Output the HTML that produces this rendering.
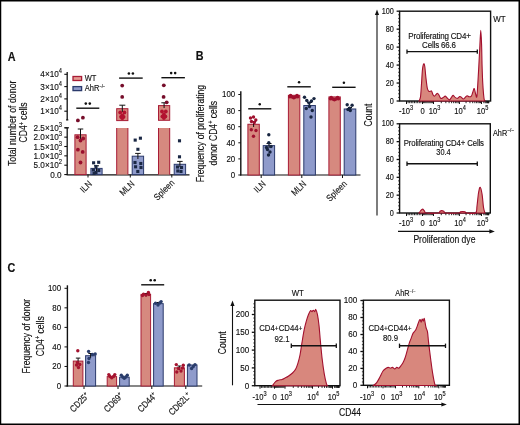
<!DOCTYPE html>
<html><head><meta charset="utf-8"><style>
html,body{margin:0;padding:0;background:#fff;}
#f{position:relative;width:520px;height:425px;overflow:hidden;background:#fff;}
svg{position:absolute;left:0;top:0;filter:blur(0.35px);}
text{font-family:"Liberation Sans", sans-serif;stroke:#111;stroke-width:0.15px;}
</style></head><body><div id="f">
<svg width="520" height="425" viewBox="0 0 520 425">
<rect x="0" y="0" width="520" height="1.5" fill="#000"/><rect x="0" y="0" width="1.25" height="425" fill="#000"/><rect x="518.5" y="0" width="1.5" height="425" fill="#000"/><rect x="0" y="423.5" width="520" height="1.5" fill="#000"/>
<text x="0" y="0" font-size="12.00" text-anchor="start" font-weight="bold" fill="#111" transform="translate(7.8 60.9) scale(0.9 1)">A</text>
<text x="0" y="0" font-size="10.23" text-anchor="middle" font-weight="normal" fill="#111" transform="translate(15.6 123.3) rotate(-90) scale(0.86 1)">Total number of donor</text>
<text x="0" y="0" font-size="10.00" text-anchor="middle" font-weight="normal" fill="#111" transform="translate(27 122.5) rotate(-90) scale(0.86 1)">CD4<tspan font-size="6.51" dy="-3.49">+</tspan><tspan dy="3.49"> cells</tspan></text>
<line x1="67.2" y1="72" x2="67.2" y2="120.3" stroke="#111" stroke-width="1.3"/>
<line x1="66.0" y1="119.9" x2="68.4" y2="119.9" stroke="#111" stroke-width="1"/>
<line x1="64.3" y1="74.3" x2="67.2" y2="74.3" stroke="#111" stroke-width="1.1"/>
<text x="0" y="0" font-size="9.53" text-anchor="end" font-weight="normal" fill="#111" transform="translate(62 77.3) scale(0.86 1)">4×10<tspan font-size="6.67" dy="-3.81">4</tspan></text>
<line x1="64.3" y1="86.6" x2="67.2" y2="86.6" stroke="#111" stroke-width="1.1"/>
<text x="0" y="0" font-size="9.53" text-anchor="end" font-weight="normal" fill="#111" transform="translate(62 89.6) scale(0.86 1)">3×10<tspan font-size="6.67" dy="-3.81">4</tspan></text>
<line x1="64.3" y1="98.9" x2="67.2" y2="98.9" stroke="#111" stroke-width="1.1"/>
<text x="0" y="0" font-size="9.53" text-anchor="end" font-weight="normal" fill="#111" transform="translate(62 101.9) scale(0.86 1)">2×10<tspan font-size="6.67" dy="-3.81">4</tspan></text>
<line x1="64.3" y1="111.2" x2="67.2" y2="111.2" stroke="#111" stroke-width="1.1"/>
<text x="0" y="0" font-size="9.53" text-anchor="end" font-weight="normal" fill="#111" transform="translate(62 114.2) scale(0.86 1)">1×10<tspan font-size="6.67" dy="-3.81">4</tspan></text>
<line x1="67.2" y1="127.5" x2="67.2" y2="175" stroke="#111" stroke-width="1.3"/>
<line x1="64.60000000000001" y1="127.8" x2="69.0" y2="127.8" stroke="#111" stroke-width="1.1"/>
<line x1="64.3" y1="127.8" x2="67.2" y2="127.8" stroke="#111" stroke-width="1.1"/>
<text x="0" y="0" font-size="9.53" text-anchor="end" font-weight="normal" fill="#111" transform="translate(62 130.8) scale(0.86 1)">2.5×10<tspan font-size="6.67" dy="-3.81">3</tspan></text>
<line x1="64.3" y1="137.15" x2="67.2" y2="137.15" stroke="#111" stroke-width="1.1"/>
<text x="0" y="0" font-size="9.53" text-anchor="end" font-weight="normal" fill="#111" transform="translate(62 140.15) scale(0.86 1)">2.0×10<tspan font-size="6.67" dy="-3.81">3</tspan></text>
<line x1="64.3" y1="146.5" x2="67.2" y2="146.5" stroke="#111" stroke-width="1.1"/>
<text x="0" y="0" font-size="9.53" text-anchor="end" font-weight="normal" fill="#111" transform="translate(62 149.5) scale(0.86 1)">1.5×10<tspan font-size="6.67" dy="-3.81">3</tspan></text>
<line x1="64.3" y1="155.85" x2="67.2" y2="155.85" stroke="#111" stroke-width="1.1"/>
<text x="0" y="0" font-size="9.53" text-anchor="end" font-weight="normal" fill="#111" transform="translate(62 158.85) scale(0.86 1)">1.0×10<tspan font-size="6.67" dy="-3.81">3</tspan></text>
<line x1="64.3" y1="165.2" x2="67.2" y2="165.2" stroke="#111" stroke-width="1.1"/>
<text x="0" y="0" font-size="9.53" text-anchor="end" font-weight="normal" fill="#111" transform="translate(62 168.2) scale(0.86 1)">5.0×10<tspan font-size="6.67" dy="-3.81">2</tspan></text>
<line x1="64.3" y1="174.55" x2="67.2" y2="174.55" stroke="#111" stroke-width="1.1"/>
<text x="0" y="0" font-size="9.53" text-anchor="end" font-weight="normal" fill="#111" transform="translate(61.6 177.55) scale(0.86 1)">0.0</text>
<line x1="66.60000000000001" y1="174.9" x2="189.5" y2="174.9" stroke="#111" stroke-width="1.3"/>
<line x1="88" y1="174.6" x2="88" y2="177.5" stroke="#111" stroke-width="1"/>
<line x1="130.3" y1="174.6" x2="130.3" y2="177.5" stroke="#111" stroke-width="1"/>
<line x1="171.8" y1="174.6" x2="171.8" y2="177.5" stroke="#111" stroke-width="1"/>
<rect x="74.9" y="134.8" width="11.2" height="39.8" fill="#d6897f" stroke="#a81c36" stroke-width="1"/>
<rect x="90.9" y="168.4" width="11.2" height="6.2" fill="#8f9bcb" stroke="#2b3a6c" stroke-width="1"/>
<rect x="116.7" y="128" width="11.2" height="46.6" fill="#d6897f"/>
<line x1="116.7" y1="128" x2="116.7" y2="174.6" stroke="#a81c36" stroke-width="1"/>
<line x1="127.9" y1="128" x2="127.9" y2="174.6" stroke="#a81c36" stroke-width="1"/>
<rect x="132.2" y="156.2" width="11.4" height="18.4" fill="#8f9bcb" stroke="#2b3a6c" stroke-width="1"/>
<rect x="158.5" y="128" width="11.2" height="46.6" fill="#d6897f"/>
<line x1="158.5" y1="128" x2="158.5" y2="174.6" stroke="#a81c36" stroke-width="1"/>
<line x1="169.7" y1="128" x2="169.7" y2="174.6" stroke="#a81c36" stroke-width="1"/>
<rect x="174.2" y="164.3" width="11.4" height="10.3" fill="#8f9bcb" stroke="#2b3a6c" stroke-width="1"/>
<rect x="116.7" y="108.7" width="11.2" height="11.9" fill="#d6897f" stroke="#a81c36" stroke-width="1"/>
<rect x="158.5" y="105.6" width="11.2" height="14.7" fill="#d6897f" stroke="#a81c36" stroke-width="1"/>
<line x1="80.5" y1="129" x2="80.5" y2="141" stroke="#111" stroke-width="1"/>
<line x1="77.75" y1="129" x2="83.25" y2="129" stroke="#111" stroke-width="1"/>
<line x1="96.5" y1="165.8" x2="96.5" y2="171" stroke="#111" stroke-width="1"/>
<line x1="94.0" y1="165.8" x2="99.0" y2="165.8" stroke="#111" stroke-width="1"/>
<line x1="122.3" y1="105.2" x2="122.3" y2="112" stroke="#111" stroke-width="1"/>
<line x1="119.3" y1="105.2" x2="125.3" y2="105.2" stroke="#111" stroke-width="1"/>
<line x1="137.9" y1="153.4" x2="137.9" y2="159" stroke="#111" stroke-width="1"/>
<line x1="135.15" y1="153.4" x2="140.65" y2="153.4" stroke="#111" stroke-width="1"/>
<line x1="164.1" y1="102.8" x2="164.1" y2="108" stroke="#111" stroke-width="1"/>
<line x1="161.35" y1="102.8" x2="166.85" y2="102.8" stroke="#111" stroke-width="1"/>
<line x1="179.9" y1="161.4" x2="179.9" y2="167" stroke="#111" stroke-width="1"/>
<line x1="177.15" y1="161.4" x2="182.65" y2="161.4" stroke="#111" stroke-width="1"/>
<circle cx="77.9" cy="120.4" r="1.9" fill="#760d2a"/>
<circle cx="82.9" cy="117.7" r="1.9" fill="#760d2a"/>
<circle cx="77.6" cy="137.2" r="1.9" fill="#9a0f2e"/>
<circle cx="83.2" cy="138.5" r="1.9" fill="#9a0f2e"/>
<circle cx="77.9" cy="149.7" r="1.9" fill="#9a0f2e"/>
<circle cx="82.7" cy="151.9" r="1.9" fill="#9a0f2e"/>
<circle cx="80.5" cy="162.5" r="1.9" fill="#9a0f2e"/>
<circle cx="80.5" cy="140.5" r="1.9" fill="#9a0f2e"/>
<rect x="92.05" y="161.25" width="3.1" height="3.1" fill="#1b2845"/>
<rect x="97.15" y="160.75" width="3.1" height="3.1" fill="#1b2845"/>
<rect x="94.45" y="164.95" width="3.1" height="3.1" fill="#1b2845"/>
<rect x="91.85000000000001" y="168.45" width="3.1" height="3.1" fill="#1b2845"/>
<rect x="97.25" y="168.95" width="3.1" height="3.1" fill="#1b2845"/>
<rect x="94.45" y="170.95" width="3.1" height="3.1" fill="#1b2845"/>
<rect x="92.45" y="171.95" width="3.1" height="3.1" fill="#1b2845"/>
<circle cx="122.2" cy="85.6" r="1.9" fill="#760d2a"/>
<circle cx="122.2" cy="96.9" r="1.9" fill="#760d2a"/>
<circle cx="120.2" cy="112.5" r="1.9" fill="#b3122f"/>
<circle cx="124.4" cy="112.5" r="1.9" fill="#b3122f"/>
<circle cx="122.3" cy="115.5" r="1.9" fill="#b3122f"/>
<circle cx="121" cy="116.8" r="1.9" fill="#b3122f"/>
<circle cx="123.6" cy="116.8" r="1.9" fill="#b3122f"/>
<circle cx="122.3" cy="118.2" r="1.9" fill="#b3122f"/>
<rect x="133.64999999999998" y="138.54999999999998" width="3.1" height="3.1" fill="#1b2845"/>
<rect x="138.85" y="136.64999999999998" width="3.1" height="3.1" fill="#1b2845"/>
<rect x="136.35" y="147.75" width="3.1" height="3.1" fill="#1b2845"/>
<rect x="133.45" y="160.95" width="3.1" height="3.1" fill="#1b2845"/>
<rect x="139.25" y="161.95" width="3.1" height="3.1" fill="#1b2845"/>
<rect x="134.04999999999998" y="165.25" width="3.1" height="3.1" fill="#1b2845"/>
<rect x="139.45" y="165.95" width="3.1" height="3.1" fill="#1b2845"/>
<rect x="136.25" y="169.95" width="3.1" height="3.1" fill="#1b2845"/>
<circle cx="163.8" cy="85.3" r="1.9" fill="#760d2a"/>
<circle cx="163.6" cy="96.9" r="1.9" fill="#760d2a"/>
<circle cx="166.7" cy="102.3" r="1.9" fill="#760d2a"/>
<circle cx="162" cy="111.5" r="1.9" fill="#b3122f"/>
<circle cx="165.8" cy="111.5" r="1.9" fill="#b3122f"/>
<circle cx="163.9" cy="114.5" r="1.9" fill="#b3122f"/>
<circle cx="162.4" cy="116.5" r="1.9" fill="#b3122f"/>
<circle cx="165.4" cy="116.5" r="1.9" fill="#b3122f"/>
<circle cx="163.9" cy="118" r="1.9" fill="#b3122f"/>
<rect x="177.95" y="139.25" width="3.1" height="3.1" fill="#1b2845"/>
<rect x="177.95" y="155.25" width="3.1" height="3.1" fill="#1b2845"/>
<rect x="175.95" y="165.45" width="3.1" height="3.1" fill="#1b2845"/>
<rect x="179.95" y="165.95" width="3.1" height="3.1" fill="#1b2845"/>
<rect x="176.25" y="169.45" width="3.1" height="3.1" fill="#1b2845"/>
<rect x="179.45" y="169.95" width="3.1" height="3.1" fill="#1b2845"/>
<line x1="76.3" y1="108.2" x2="99.3" y2="108.2" stroke="#111" stroke-width="1.4"/>
<circle cx="85.8" cy="103.60000000000001" r="1.3" fill="#111"/>
<circle cx="89.8" cy="103.60000000000001" r="1.3" fill="#111"/>
<line x1="119.1" y1="78.1" x2="142.7" y2="78.1" stroke="#111" stroke-width="1.4"/>
<circle cx="128.89999999999998" cy="73.5" r="1.3" fill="#111"/>
<circle cx="132.89999999999998" cy="73.5" r="1.3" fill="#111"/>
<line x1="161.4" y1="77.7" x2="184.9" y2="77.7" stroke="#111" stroke-width="1.4"/>
<circle cx="171.15" cy="73.10000000000001" r="1.3" fill="#111"/>
<circle cx="175.15" cy="73.10000000000001" r="1.3" fill="#111"/>
<rect x="73" y="76.5" width="8.6" height="4.0" fill="#e59a92" stroke="#a81c36" stroke-width="1.3"/>
<text x="0" y="0" font-size="8.72" text-anchor="start" font-weight="normal" fill="#111" transform="translate(84.8 81.0) scale(0.86 1)">WT</text>
<rect x="73" y="86.6" width="8.6" height="4.0" fill="#8f9bcb" stroke="#2b3a6c" stroke-width="1.3"/>
<text x="0" y="0" font-size="8.72" text-anchor="start" font-weight="normal" fill="#111" transform="translate(84.8 91.3) scale(0.86 1)">AhR<tspan font-size="4.65" dy="-3.49">−/−</tspan></text>
<text x="0" y="0" font-size="9.19" text-anchor="end" font-weight="normal" fill="#111" transform="translate(92.5 184.5) rotate(-45) scale(0.86 1)">ILN</text>
<text x="0" y="0" font-size="9.19" text-anchor="end" font-weight="normal" fill="#111" transform="translate(135 184.5) rotate(-45) scale(0.86 1)">MLN</text>
<text x="0" y="0" font-size="9.19" text-anchor="end" font-weight="normal" fill="#111" transform="translate(175 183.5) rotate(-45) scale(0.86 1)">Spleen</text>
<text x="0" y="0" font-size="12.00" text-anchor="start" font-weight="bold" fill="#111" transform="translate(195.8 59.8) scale(0.9 1)">B</text>
<text x="0" y="0" font-size="10.00" text-anchor="middle" font-weight="normal" fill="#111" transform="translate(204 133.6) rotate(-90) scale(0.86 1)">Frequency of proliferating</text>
<text x="0" y="0" font-size="10.00" text-anchor="middle" font-weight="normal" fill="#111" transform="translate(216.8 133.2) rotate(-90) scale(0.86 1)">donor CD4<tspan font-size="6.51" dy="-3.49">+</tspan><tspan dy="3.49"> cells</tspan></text>
<line x1="240.8" y1="91.3" x2="240.8" y2="175.6" stroke="#111" stroke-width="1.4"/>
<line x1="238.3" y1="94.5" x2="240.8" y2="94.5" stroke="#111" stroke-width="1"/>
<text x="0" y="0" font-size="9.19" text-anchor="end" font-weight="normal" fill="#111" transform="translate(235.2 97.4) scale(0.86 1)">100</text>
<line x1="238.3" y1="110.6" x2="240.8" y2="110.6" stroke="#111" stroke-width="1"/>
<text x="0" y="0" font-size="9.19" text-anchor="end" font-weight="normal" fill="#111" transform="translate(235.2 113.5) scale(0.86 1)">80</text>
<line x1="238.3" y1="126.7" x2="240.8" y2="126.7" stroke="#111" stroke-width="1"/>
<text x="0" y="0" font-size="9.19" text-anchor="end" font-weight="normal" fill="#111" transform="translate(235.2 129.6) scale(0.86 1)">60</text>
<line x1="238.3" y1="142.8" x2="240.8" y2="142.8" stroke="#111" stroke-width="1"/>
<text x="0" y="0" font-size="9.19" text-anchor="end" font-weight="normal" fill="#111" transform="translate(235.2 145.70000000000002) scale(0.86 1)">40</text>
<line x1="238.3" y1="158.9" x2="240.8" y2="158.9" stroke="#111" stroke-width="1"/>
<text x="0" y="0" font-size="9.19" text-anchor="end" font-weight="normal" fill="#111" transform="translate(235.2 161.8) scale(0.86 1)">20</text>
<line x1="238.3" y1="175.0" x2="240.8" y2="175.0" stroke="#111" stroke-width="1"/>
<text x="0" y="0" font-size="9.19" text-anchor="end" font-weight="normal" fill="#111" transform="translate(235.2 177.9) scale(0.86 1)">0</text>
<line x1="240.20000000000002" y1="175" x2="360.5" y2="175" stroke="#111" stroke-width="1.2"/>
<line x1="261.2" y1="175" x2="261.2" y2="178" stroke="#111" stroke-width="1"/>
<line x1="301.8" y1="175" x2="301.8" y2="178" stroke="#111" stroke-width="1"/>
<line x1="342.5" y1="175" x2="342.5" y2="178" stroke="#111" stroke-width="1"/>
<rect x="247.9" y="124.285" width="11.4" height="50.715" fill="#d6897f" stroke="#a81c36" stroke-width="1"/>
<rect x="263.2" y="145.6175" width="11.4" height="29.382499999999993" fill="#8f9bcb" stroke="#2b3a6c" stroke-width="1"/>
<rect x="288.4" y="95.30499999999999" width="11.4" height="79.69500000000001" fill="#d6897f" stroke="#a81c36" stroke-width="1"/>
<rect x="303.8" y="105.5285" width="11.6" height="69.4715" fill="#8f9bcb" stroke="#2b3a6c" stroke-width="1"/>
<rect x="328.9" y="96.91499999999999" width="11.4" height="78.08500000000001" fill="#d6897f" stroke="#a81c36" stroke-width="1"/>
<rect x="344.2" y="108.99" width="11.6" height="66.01" fill="#8f9bcb" stroke="#2b3a6c" stroke-width="1"/>
<line x1="253.6" y1="121.5" x2="253.6" y2="127" stroke="#111" stroke-width="1"/>
<line x1="251.1" y1="121.5" x2="256.1" y2="121.5" stroke="#111" stroke-width="1"/>
<line x1="269" y1="143.5" x2="269" y2="148" stroke="#111" stroke-width="1"/>
<line x1="266.5" y1="143.5" x2="271.5" y2="143.5" stroke="#111" stroke-width="1"/>
<line x1="309.6" y1="102.5" x2="309.6" y2="106.5" stroke="#111" stroke-width="1"/>
<line x1="307.1" y1="102.5" x2="312.1" y2="102.5" stroke="#111" stroke-width="1"/>
<line x1="350" y1="107.5" x2="350" y2="110.5" stroke="#111" stroke-width="1"/>
<line x1="348.0" y1="107.5" x2="352.0" y2="107.5" stroke="#111" stroke-width="1"/>
<circle cx="250.5" cy="118" r="1.7" fill="#a0102e"/>
<circle cx="253.5" cy="117" r="1.7" fill="#a0102e"/>
<circle cx="255.8" cy="120" r="1.7" fill="#a0102e"/>
<circle cx="251.5" cy="121.5" r="1.7" fill="#a0102e"/>
<circle cx="254.3" cy="122.5" r="1.7" fill="#a0102e"/>
<circle cx="251.3" cy="129.8" r="1.7" fill="#a0102e"/>
<circle cx="256" cy="130.5" r="1.7" fill="#a0102e"/>
<circle cx="253.5" cy="136.3" r="1.7" fill="#a0102e"/>
<circle cx="268.8" cy="134.7" r="1.7" fill="#172540"/>
<circle cx="268.8" cy="142.7" r="1.7" fill="#172540"/>
<circle cx="271" cy="146.5" r="1.7" fill="#172540"/>
<circle cx="267.5" cy="149.5" r="1.7" fill="#172540"/>
<circle cx="270" cy="152" r="1.7" fill="#172540"/>
<circle cx="266.5" cy="147.5" r="1.7" fill="#172540"/>
<circle cx="268.5" cy="155" r="1.7" fill="#172540"/>
<circle cx="290.6" cy="95.6" r="1.8" fill="#a0102e"/>
<circle cx="297" cy="95.6" r="1.8" fill="#a0102e"/>
<circle cx="293.8" cy="97.8" r="1.8" fill="#a0102e"/>
<circle cx="289.8" cy="96.8" r="1.8" fill="#a0102e"/>
<circle cx="297.8" cy="96.8" r="1.8" fill="#a0102e"/>
<circle cx="292.2" cy="97" r="1.8" fill="#a0102e"/>
<circle cx="295.4" cy="97" r="1.8" fill="#a0102e"/>
<circle cx="304.5" cy="97.2" r="1.7" fill="#172540"/>
<circle cx="314" cy="98.6" r="1.7" fill="#172540"/>
<circle cx="306.8" cy="100.5" r="1.7" fill="#172540"/>
<circle cx="311.5" cy="101" r="1.7" fill="#172540"/>
<circle cx="309" cy="103" r="1.7" fill="#172540"/>
<circle cx="309.5" cy="106.5" r="1.7" fill="#172540"/>
<circle cx="306.3" cy="108.5" r="1.7" fill="#172540"/>
<circle cx="312.3" cy="110.5" r="1.7" fill="#172540"/>
<circle cx="311" cy="117" r="1.7" fill="#172540"/>
<circle cx="331.2" cy="97.6" r="1.8" fill="#a0102e"/>
<circle cx="337.6" cy="97.6" r="1.8" fill="#a0102e"/>
<circle cx="334.4" cy="99.8" r="1.8" fill="#a0102e"/>
<circle cx="330.4" cy="98.8" r="1.8" fill="#a0102e"/>
<circle cx="338.4" cy="98.8" r="1.8" fill="#a0102e"/>
<circle cx="332.8" cy="99" r="1.8" fill="#a0102e"/>
<circle cx="336" cy="99" r="1.8" fill="#a0102e"/>
<circle cx="347.2" cy="104.8" r="1.7" fill="#172540"/>
<circle cx="352.1" cy="105.2" r="1.7" fill="#172540"/>
<circle cx="349.6" cy="108.3" r="1.7" fill="#172540"/>
<circle cx="350.3" cy="110.5" r="1.7" fill="#172540"/>
<circle cx="348" cy="109.5" r="1.7" fill="#172540"/>
<line x1="248.2" y1="108.8" x2="271.3" y2="108.8" stroke="#111" stroke-width="1.4"/>
<circle cx="259.75" cy="104.2" r="1.25" fill="#111"/>
<line x1="287.3" y1="86.8" x2="310.8" y2="86.8" stroke="#111" stroke-width="1.4"/>
<circle cx="299.05" cy="82.2" r="1.25" fill="#111"/>
<line x1="332.2" y1="87.3" x2="355.6" y2="87.3" stroke="#111" stroke-width="1.4"/>
<circle cx="343.9" cy="82.7" r="1.25" fill="#111"/>
<text x="0" y="0" font-size="9.19" text-anchor="end" font-weight="normal" fill="#111" transform="translate(266.3 184.5) rotate(-45) scale(0.86 1)">ILN</text>
<text x="0" y="0" font-size="9.19" text-anchor="end" font-weight="normal" fill="#111" transform="translate(306.8 184.5) rotate(-45) scale(0.86 1)">MLN</text>
<text x="0" y="0" font-size="9.19" text-anchor="end" font-weight="normal" fill="#111" transform="translate(347.5 184.5) rotate(-45) scale(0.86 1)">Spleen</text>
<text x="0" y="0" font-size="10.00" text-anchor="middle" font-weight="normal" fill="#111" transform="translate(372.4 115) rotate(-90) scale(0.86 1)">Count</text>
<line x1="377" y1="14" x2="377" y2="215.5" stroke="#111" stroke-width="1.1"/>
<path d="M377 9.6 L374.9 15 L379.1 15 Z" fill="#111"/>
<line x1="398" y1="231.4" x2="490" y2="231.4" stroke="#111" stroke-width="1.1"/>
<path d="M494.8 231.4 L489.4 229.3 L489.4 233.5 Z" fill="#111"/>
<text x="0" y="0" font-size="10.00" text-anchor="middle" font-weight="normal" fill="#111" transform="translate(444.4 243) scale(0.86 1)">Proliferation dye</text>
<rect x="399.6" y="11.2" width="91.0" height="89.8" fill="none" stroke="#111" stroke-width="1.4"/>
<line x1="396.6" y1="11.2" x2="399.6" y2="11.2" stroke="#111" stroke-width="1.3"/>
<text x="0" y="0" font-size="8.49" text-anchor="end" font-weight="normal" fill="#111" transform="translate(393.8 13.799999999999999) scale(0.86 1)">100</text>
<line x1="398.1" y1="14.792" x2="399.6" y2="14.792" stroke="#111" stroke-width="0.8"/>
<line x1="398.1" y1="18.384" x2="399.6" y2="18.384" stroke="#111" stroke-width="0.8"/>
<line x1="398.1" y1="21.976" x2="399.6" y2="21.976" stroke="#111" stroke-width="0.8"/>
<line x1="398.1" y1="25.567999999999998" x2="399.6" y2="25.567999999999998" stroke="#111" stroke-width="0.8"/>
<line x1="396.6" y1="29.16" x2="399.6" y2="29.16" stroke="#111" stroke-width="1.3"/>
<text x="0" y="0" font-size="8.49" text-anchor="end" font-weight="normal" fill="#111" transform="translate(393.8 31.76) scale(0.86 1)">80</text>
<line x1="398.1" y1="32.752" x2="399.6" y2="32.752" stroke="#111" stroke-width="0.8"/>
<line x1="398.1" y1="36.344" x2="399.6" y2="36.344" stroke="#111" stroke-width="0.8"/>
<line x1="398.1" y1="39.936" x2="399.6" y2="39.936" stroke="#111" stroke-width="0.8"/>
<line x1="398.1" y1="43.528" x2="399.6" y2="43.528" stroke="#111" stroke-width="0.8"/>
<line x1="396.6" y1="47.120000000000005" x2="399.6" y2="47.120000000000005" stroke="#111" stroke-width="1.3"/>
<text x="0" y="0" font-size="8.49" text-anchor="end" font-weight="normal" fill="#111" transform="translate(393.8 49.720000000000006) scale(0.86 1)">60</text>
<line x1="398.1" y1="50.712" x2="399.6" y2="50.712" stroke="#111" stroke-width="0.8"/>
<line x1="398.1" y1="54.304" x2="399.6" y2="54.304" stroke="#111" stroke-width="0.8"/>
<line x1="398.1" y1="57.896" x2="399.6" y2="57.896" stroke="#111" stroke-width="0.8"/>
<line x1="398.1" y1="61.48800000000001" x2="399.6" y2="61.48800000000001" stroke="#111" stroke-width="0.8"/>
<line x1="396.6" y1="65.08" x2="399.6" y2="65.08" stroke="#111" stroke-width="1.3"/>
<text x="0" y="0" font-size="8.49" text-anchor="end" font-weight="normal" fill="#111" transform="translate(393.8 67.67999999999999) scale(0.86 1)">40</text>
<line x1="398.1" y1="68.672" x2="399.6" y2="68.672" stroke="#111" stroke-width="0.8"/>
<line x1="398.1" y1="72.264" x2="399.6" y2="72.264" stroke="#111" stroke-width="0.8"/>
<line x1="398.1" y1="75.856" x2="399.6" y2="75.856" stroke="#111" stroke-width="0.8"/>
<line x1="398.1" y1="79.448" x2="399.6" y2="79.448" stroke="#111" stroke-width="0.8"/>
<line x1="396.6" y1="83.04" x2="399.6" y2="83.04" stroke="#111" stroke-width="1.3"/>
<text x="0" y="0" font-size="8.49" text-anchor="end" font-weight="normal" fill="#111" transform="translate(393.8 85.64) scale(0.86 1)">20</text>
<line x1="398.1" y1="86.632" x2="399.6" y2="86.632" stroke="#111" stroke-width="0.8"/>
<line x1="398.1" y1="90.224" x2="399.6" y2="90.224" stroke="#111" stroke-width="0.8"/>
<line x1="398.1" y1="93.816" x2="399.6" y2="93.816" stroke="#111" stroke-width="0.8"/>
<line x1="398.1" y1="97.408" x2="399.6" y2="97.408" stroke="#111" stroke-width="0.8"/>
<line x1="396.6" y1="101.0" x2="399.6" y2="101.0" stroke="#111" stroke-width="1.3"/>
<text x="0" y="0" font-size="8.49" text-anchor="end" font-weight="normal" fill="#111" transform="translate(393.8 103.6) scale(0.86 1)">0</text>
<rect x="399.6" y="123.8" width="90.69999999999999" height="89.2" fill="none" stroke="#111" stroke-width="1.4"/>
<line x1="396.6" y1="123.8" x2="399.6" y2="123.8" stroke="#111" stroke-width="1.3"/>
<text x="0" y="0" font-size="8.49" text-anchor="end" font-weight="normal" fill="#111" transform="translate(393.8 126.39999999999999) scale(0.86 1)">100</text>
<line x1="398.1" y1="127.368" x2="399.6" y2="127.368" stroke="#111" stroke-width="0.8"/>
<line x1="398.1" y1="130.936" x2="399.6" y2="130.936" stroke="#111" stroke-width="0.8"/>
<line x1="398.1" y1="134.504" x2="399.6" y2="134.504" stroke="#111" stroke-width="0.8"/>
<line x1="398.1" y1="138.072" x2="399.6" y2="138.072" stroke="#111" stroke-width="0.8"/>
<line x1="396.6" y1="141.64" x2="399.6" y2="141.64" stroke="#111" stroke-width="1.3"/>
<text x="0" y="0" font-size="8.49" text-anchor="end" font-weight="normal" fill="#111" transform="translate(393.8 144.23999999999998) scale(0.86 1)">80</text>
<line x1="398.1" y1="145.208" x2="399.6" y2="145.208" stroke="#111" stroke-width="0.8"/>
<line x1="398.1" y1="148.77599999999998" x2="399.6" y2="148.77599999999998" stroke="#111" stroke-width="0.8"/>
<line x1="398.1" y1="152.344" x2="399.6" y2="152.344" stroke="#111" stroke-width="0.8"/>
<line x1="398.1" y1="155.91199999999998" x2="399.6" y2="155.91199999999998" stroke="#111" stroke-width="0.8"/>
<line x1="396.6" y1="159.48" x2="399.6" y2="159.48" stroke="#111" stroke-width="1.3"/>
<text x="0" y="0" font-size="8.49" text-anchor="end" font-weight="normal" fill="#111" transform="translate(393.8 162.07999999999998) scale(0.86 1)">60</text>
<line x1="398.1" y1="163.048" x2="399.6" y2="163.048" stroke="#111" stroke-width="0.8"/>
<line x1="398.1" y1="166.61599999999999" x2="399.6" y2="166.61599999999999" stroke="#111" stroke-width="0.8"/>
<line x1="398.1" y1="170.184" x2="399.6" y2="170.184" stroke="#111" stroke-width="0.8"/>
<line x1="398.1" y1="173.75199999999998" x2="399.6" y2="173.75199999999998" stroke="#111" stroke-width="0.8"/>
<line x1="396.6" y1="177.32" x2="399.6" y2="177.32" stroke="#111" stroke-width="1.3"/>
<text x="0" y="0" font-size="8.49" text-anchor="end" font-weight="normal" fill="#111" transform="translate(393.8 179.92) scale(0.86 1)">40</text>
<line x1="398.1" y1="180.888" x2="399.6" y2="180.888" stroke="#111" stroke-width="0.8"/>
<line x1="398.1" y1="184.456" x2="399.6" y2="184.456" stroke="#111" stroke-width="0.8"/>
<line x1="398.1" y1="188.024" x2="399.6" y2="188.024" stroke="#111" stroke-width="0.8"/>
<line x1="398.1" y1="191.59199999999998" x2="399.6" y2="191.59199999999998" stroke="#111" stroke-width="0.8"/>
<line x1="396.6" y1="195.16" x2="399.6" y2="195.16" stroke="#111" stroke-width="1.3"/>
<text x="0" y="0" font-size="8.49" text-anchor="end" font-weight="normal" fill="#111" transform="translate(393.8 197.76) scale(0.86 1)">20</text>
<line x1="398.1" y1="198.728" x2="399.6" y2="198.728" stroke="#111" stroke-width="0.8"/>
<line x1="398.1" y1="202.296" x2="399.6" y2="202.296" stroke="#111" stroke-width="0.8"/>
<line x1="398.1" y1="205.864" x2="399.6" y2="205.864" stroke="#111" stroke-width="0.8"/>
<line x1="398.1" y1="209.432" x2="399.6" y2="209.432" stroke="#111" stroke-width="0.8"/>
<line x1="396.6" y1="213.0" x2="399.6" y2="213.0" stroke="#111" stroke-width="1.3"/>
<text x="0" y="0" font-size="8.49" text-anchor="end" font-weight="normal" fill="#111" transform="translate(393.8 215.6) scale(0.86 1)">0</text>
<line x1="406.5" y1="101" x2="406.5" y2="104" stroke="#111" stroke-width="1"/>
<line x1="422.5" y1="101" x2="422.5" y2="104" stroke="#111" stroke-width="1"/>
<line x1="433.5" y1="101" x2="433.5" y2="104" stroke="#111" stroke-width="1"/>
<line x1="459.4" y1="101" x2="459.4" y2="104" stroke="#111" stroke-width="1"/>
<line x1="481.5" y1="101" x2="481.5" y2="104" stroke="#111" stroke-width="1"/>
<line x1="441.2966768876971" y1="101" x2="441.2966768876971" y2="103.2" stroke="#111" stroke-width="0.9"/>
<line x1="466.05276290417396" y1="101" x2="466.05276290417396" y2="103.2" stroke="#111" stroke-width="0.9"/>
<line x1="445.8574404972392" y1="101" x2="445.8574404972392" y2="103.2" stroke="#111" stroke-width="0.9"/>
<line x1="469.9443797293045" y1="101" x2="469.9443797293045" y2="103.2" stroke="#111" stroke-width="0.9"/>
<line x1="449.09335377539423" y1="101" x2="449.09335377539423" y2="103.2" stroke="#111" stroke-width="0.9"/>
<line x1="472.70552580834794" y1="101" x2="472.70552580834794" y2="103.2" stroke="#111" stroke-width="0.9"/>
<line x1="451.60332311230286" y1="101" x2="451.60332311230286" y2="103.2" stroke="#111" stroke-width="0.9"/>
<line x1="474.847237095826" y1="101" x2="474.847237095826" y2="103.2" stroke="#111" stroke-width="0.9"/>
<line x1="453.65411738493634" y1="101" x2="453.65411738493634" y2="103.2" stroke="#111" stroke-width="0.9"/>
<line x1="476.59714263347854" y1="101" x2="476.59714263347854" y2="103.2" stroke="#111" stroke-width="0.9"/>
<line x1="455.38803923636925" y1="101" x2="455.38803923636925" y2="103.2" stroke="#111" stroke-width="0.9"/>
<line x1="478.07666668431506" y1="101" x2="478.07666668431506" y2="103.2" stroke="#111" stroke-width="0.9"/>
<line x1="456.8900306630913" y1="101" x2="456.8900306630913" y2="103.2" stroke="#111" stroke-width="0.9"/>
<line x1="479.3582887125219" y1="101" x2="479.3582887125219" y2="103.2" stroke="#111" stroke-width="0.9"/>
<line x1="458.2148809944785" y1="101" x2="458.2148809944785" y2="103.2" stroke="#111" stroke-width="0.9"/>
<line x1="480.4887594586091" y1="101" x2="480.4887594586091" y2="103.2" stroke="#111" stroke-width="0.9"/>
<line x1="408.1" y1="101" x2="408.1" y2="103.2" stroke="#111" stroke-width="0.9"/>
<line x1="423.6" y1="101" x2="423.6" y2="103.2" stroke="#111" stroke-width="0.9"/>
<line x1="409.7" y1="101" x2="409.7" y2="103.2" stroke="#111" stroke-width="0.9"/>
<line x1="424.7" y1="101" x2="424.7" y2="103.2" stroke="#111" stroke-width="0.9"/>
<line x1="411.3" y1="101" x2="411.3" y2="103.2" stroke="#111" stroke-width="0.9"/>
<line x1="425.8" y1="101" x2="425.8" y2="103.2" stroke="#111" stroke-width="0.9"/>
<line x1="412.9" y1="101" x2="412.9" y2="103.2" stroke="#111" stroke-width="0.9"/>
<line x1="426.9" y1="101" x2="426.9" y2="103.2" stroke="#111" stroke-width="0.9"/>
<line x1="414.5" y1="101" x2="414.5" y2="103.2" stroke="#111" stroke-width="0.9"/>
<line x1="428.0" y1="101" x2="428.0" y2="103.2" stroke="#111" stroke-width="0.9"/>
<line x1="416.1" y1="101" x2="416.1" y2="103.2" stroke="#111" stroke-width="0.9"/>
<line x1="429.1" y1="101" x2="429.1" y2="103.2" stroke="#111" stroke-width="0.9"/>
<line x1="417.7" y1="101" x2="417.7" y2="103.2" stroke="#111" stroke-width="0.9"/>
<line x1="430.2" y1="101" x2="430.2" y2="103.2" stroke="#111" stroke-width="0.9"/>
<line x1="419.3" y1="101" x2="419.3" y2="103.2" stroke="#111" stroke-width="0.9"/>
<line x1="431.3" y1="101" x2="431.3" y2="103.2" stroke="#111" stroke-width="0.9"/>
<line x1="420.9" y1="101" x2="420.9" y2="103.2" stroke="#111" stroke-width="0.9"/>
<line x1="432.4" y1="101" x2="432.4" y2="103.2" stroke="#111" stroke-width="0.9"/>
<line x1="483.8284670164609" y1="101" x2="483.8284670164609" y2="103.2" stroke="#111" stroke-width="0.9"/>
<line x1="485.1905329052566" y1="101" x2="485.1905329052566" y2="103.2" stroke="#111" stroke-width="0.9"/>
<line x1="486.1569340329218" y1="101" x2="486.1569340329218" y2="103.2" stroke="#111" stroke-width="0.9"/>
<line x1="486.90653298353914" y1="101" x2="486.90653298353914" y2="103.2" stroke="#111" stroke-width="0.9"/>
<line x1="487.51899992171747" y1="101" x2="487.51899992171747" y2="103.2" stroke="#111" stroke-width="0.9"/>
<line x1="488.0368333395103" y1="101" x2="488.0368333395103" y2="103.2" stroke="#111" stroke-width="0.9"/>
<line x1="488.4854010493827" y1="101" x2="488.4854010493827" y2="103.2" stroke="#111" stroke-width="0.9"/>
<line x1="488.8810658105132" y1="101" x2="488.8810658105132" y2="103.2" stroke="#111" stroke-width="0.9"/>
<text x="0" y="0" font-size="8.84" text-anchor="middle" font-weight="normal" fill="#111" transform="translate(406 113.6) scale(0.86 1)">-10<tspan font-size="6.53" dy="-3.53">3</tspan></text>
<text x="0" y="0" font-size="8.84" text-anchor="middle" font-weight="normal" fill="#111" transform="translate(422.5 113.6) scale(0.86 1)">0</text>
<text x="0" y="0" font-size="8.84" text-anchor="middle" font-weight="normal" fill="#111" transform="translate(434.5 113.6) scale(0.86 1)">10<tspan font-size="6.53" dy="-3.53">3</tspan></text>
<text x="0" y="0" font-size="8.84" text-anchor="middle" font-weight="normal" fill="#111" transform="translate(460 113.6) scale(0.86 1)">10<tspan font-size="6.53" dy="-3.53">4</tspan></text>
<text x="0" y="0" font-size="8.84" text-anchor="middle" font-weight="normal" fill="#111" transform="translate(482.5 113.6) scale(0.86 1)">10<tspan font-size="6.53" dy="-3.53">5</tspan></text>
<line x1="406.5" y1="213" x2="406.5" y2="216" stroke="#111" stroke-width="1"/>
<line x1="422.5" y1="213" x2="422.5" y2="216" stroke="#111" stroke-width="1"/>
<line x1="433.5" y1="213" x2="433.5" y2="216" stroke="#111" stroke-width="1"/>
<line x1="459.4" y1="213" x2="459.4" y2="216" stroke="#111" stroke-width="1"/>
<line x1="481.5" y1="213" x2="481.5" y2="216" stroke="#111" stroke-width="1"/>
<line x1="441.2966768876971" y1="213" x2="441.2966768876971" y2="215.2" stroke="#111" stroke-width="0.9"/>
<line x1="466.05276290417396" y1="213" x2="466.05276290417396" y2="215.2" stroke="#111" stroke-width="0.9"/>
<line x1="445.8574404972392" y1="213" x2="445.8574404972392" y2="215.2" stroke="#111" stroke-width="0.9"/>
<line x1="469.9443797293045" y1="213" x2="469.9443797293045" y2="215.2" stroke="#111" stroke-width="0.9"/>
<line x1="449.09335377539423" y1="213" x2="449.09335377539423" y2="215.2" stroke="#111" stroke-width="0.9"/>
<line x1="472.70552580834794" y1="213" x2="472.70552580834794" y2="215.2" stroke="#111" stroke-width="0.9"/>
<line x1="451.60332311230286" y1="213" x2="451.60332311230286" y2="215.2" stroke="#111" stroke-width="0.9"/>
<line x1="474.847237095826" y1="213" x2="474.847237095826" y2="215.2" stroke="#111" stroke-width="0.9"/>
<line x1="453.65411738493634" y1="213" x2="453.65411738493634" y2="215.2" stroke="#111" stroke-width="0.9"/>
<line x1="476.59714263347854" y1="213" x2="476.59714263347854" y2="215.2" stroke="#111" stroke-width="0.9"/>
<line x1="455.38803923636925" y1="213" x2="455.38803923636925" y2="215.2" stroke="#111" stroke-width="0.9"/>
<line x1="478.07666668431506" y1="213" x2="478.07666668431506" y2="215.2" stroke="#111" stroke-width="0.9"/>
<line x1="456.8900306630913" y1="213" x2="456.8900306630913" y2="215.2" stroke="#111" stroke-width="0.9"/>
<line x1="479.3582887125219" y1="213" x2="479.3582887125219" y2="215.2" stroke="#111" stroke-width="0.9"/>
<line x1="458.2148809944785" y1="213" x2="458.2148809944785" y2="215.2" stroke="#111" stroke-width="0.9"/>
<line x1="480.4887594586091" y1="213" x2="480.4887594586091" y2="215.2" stroke="#111" stroke-width="0.9"/>
<line x1="408.1" y1="213" x2="408.1" y2="215.2" stroke="#111" stroke-width="0.9"/>
<line x1="423.6" y1="213" x2="423.6" y2="215.2" stroke="#111" stroke-width="0.9"/>
<line x1="409.7" y1="213" x2="409.7" y2="215.2" stroke="#111" stroke-width="0.9"/>
<line x1="424.7" y1="213" x2="424.7" y2="215.2" stroke="#111" stroke-width="0.9"/>
<line x1="411.3" y1="213" x2="411.3" y2="215.2" stroke="#111" stroke-width="0.9"/>
<line x1="425.8" y1="213" x2="425.8" y2="215.2" stroke="#111" stroke-width="0.9"/>
<line x1="412.9" y1="213" x2="412.9" y2="215.2" stroke="#111" stroke-width="0.9"/>
<line x1="426.9" y1="213" x2="426.9" y2="215.2" stroke="#111" stroke-width="0.9"/>
<line x1="414.5" y1="213" x2="414.5" y2="215.2" stroke="#111" stroke-width="0.9"/>
<line x1="428.0" y1="213" x2="428.0" y2="215.2" stroke="#111" stroke-width="0.9"/>
<line x1="416.1" y1="213" x2="416.1" y2="215.2" stroke="#111" stroke-width="0.9"/>
<line x1="429.1" y1="213" x2="429.1" y2="215.2" stroke="#111" stroke-width="0.9"/>
<line x1="417.7" y1="213" x2="417.7" y2="215.2" stroke="#111" stroke-width="0.9"/>
<line x1="430.2" y1="213" x2="430.2" y2="215.2" stroke="#111" stroke-width="0.9"/>
<line x1="419.3" y1="213" x2="419.3" y2="215.2" stroke="#111" stroke-width="0.9"/>
<line x1="431.3" y1="213" x2="431.3" y2="215.2" stroke="#111" stroke-width="0.9"/>
<line x1="420.9" y1="213" x2="420.9" y2="215.2" stroke="#111" stroke-width="0.9"/>
<line x1="432.4" y1="213" x2="432.4" y2="215.2" stroke="#111" stroke-width="0.9"/>
<line x1="483.8284670164609" y1="213" x2="483.8284670164609" y2="215.2" stroke="#111" stroke-width="0.9"/>
<line x1="485.1905329052566" y1="213" x2="485.1905329052566" y2="215.2" stroke="#111" stroke-width="0.9"/>
<line x1="486.1569340329218" y1="213" x2="486.1569340329218" y2="215.2" stroke="#111" stroke-width="0.9"/>
<line x1="486.90653298353914" y1="213" x2="486.90653298353914" y2="215.2" stroke="#111" stroke-width="0.9"/>
<line x1="487.51899992171747" y1="213" x2="487.51899992171747" y2="215.2" stroke="#111" stroke-width="0.9"/>
<line x1="488.0368333395103" y1="213" x2="488.0368333395103" y2="215.2" stroke="#111" stroke-width="0.9"/>
<line x1="488.4854010493827" y1="213" x2="488.4854010493827" y2="215.2" stroke="#111" stroke-width="0.9"/>
<line x1="488.8810658105132" y1="213" x2="488.8810658105132" y2="215.2" stroke="#111" stroke-width="0.9"/>
<text x="0" y="0" font-size="8.84" text-anchor="middle" font-weight="normal" fill="#111" transform="translate(406 225.8) scale(0.86 1)">-10<tspan font-size="6.53" dy="-3.53">3</tspan></text>
<text x="0" y="0" font-size="8.84" text-anchor="middle" font-weight="normal" fill="#111" transform="translate(422.5 225.8) scale(0.86 1)">0</text>
<text x="0" y="0" font-size="8.84" text-anchor="middle" font-weight="normal" fill="#111" transform="translate(434.5 225.8) scale(0.86 1)">10<tspan font-size="6.53" dy="-3.53">3</tspan></text>
<text x="0" y="0" font-size="8.84" text-anchor="middle" font-weight="normal" fill="#111" transform="translate(460 225.8) scale(0.86 1)">10<tspan font-size="6.53" dy="-3.53">4</tspan></text>
<text x="0" y="0" font-size="8.84" text-anchor="middle" font-weight="normal" fill="#111" transform="translate(482.5 225.8) scale(0.86 1)">10<tspan font-size="6.53" dy="-3.53">5</tspan></text>
<text x="0" y="0" font-size="9.30" text-anchor="start" font-weight="normal" fill="#111" transform="translate(493.3 22.3) scale(0.86 1)">WT</text>
<text x="0" y="0" font-size="8.49" text-anchor="start" font-weight="normal" fill="#111" transform="translate(493 135.8) scale(0.86 1)">AhR<tspan font-size="5.58" dy="-3.49">−/−</tspan></text>
<text x="0" y="0" font-size="9.30" text-anchor="middle" font-weight="normal" fill="#111" transform="translate(439.5 39.1) scale(0.86 1)" letter-spacing="-0.2">Proliferating CD4+</text>
<text x="0" y="0" font-size="9.30" text-anchor="middle" font-weight="normal" fill="#111" transform="translate(439 48.1) scale(0.86 1)" letter-spacing="-0.2">Cells 66.6</text>
<line x1="407" y1="51.6" x2="477.3" y2="51.6" stroke="#111" stroke-width="1.4"/>
<line x1="407" y1="49.4" x2="407" y2="53.8" stroke="#111" stroke-width="1.3"/>
<line x1="477.3" y1="49.4" x2="477.3" y2="53.8" stroke="#111" stroke-width="1.3"/>
<text x="0" y="0" font-size="9.07" text-anchor="middle" font-weight="normal" fill="#111" transform="translate(443.8 145.5) scale(0.86 1)" letter-spacing="-0.15">Proliferating CD4+ Cells</text>
<text x="0" y="0" font-size="8.60" text-anchor="middle" font-weight="normal" fill="#111" transform="translate(443.5 155) scale(0.86 1)">30.4</text>
<line x1="407" y1="163.8" x2="477.3" y2="163.8" stroke="#111" stroke-width="1.4"/>
<line x1="407" y1="161.6" x2="407" y2="166" stroke="#111" stroke-width="1.3"/>
<line x1="477.3" y1="161.6" x2="477.3" y2="166" stroke="#111" stroke-width="1.3"/>
<path d="M419,101 C419.25,100.30 420.08,99.65 420.50,96.80 C420.92,93.95 421.17,88.47 421.50,83.90 C421.83,79.33 422.13,72.73 422.50,69.40 C422.87,66.07 423.32,64.38 423.70,63.90 C424.08,63.42 424.45,64.38 424.80,66.50 C425.15,68.62 425.38,72.98 425.80,76.60 C426.22,80.22 426.82,85.78 427.30,88.20 C427.78,90.62 428.22,90.57 428.70,91.10 C429.18,91.63 429.72,91.40 430.20,91.40 C430.68,91.40 431.13,90.55 431.60,91.10 C432.07,91.65 432.52,93.87 433.00,94.70 C433.48,95.53 434.02,96.10 434.50,96.10 C434.98,96.10 435.42,95.18 435.90,94.70 C436.38,94.22 436.92,93.20 437.40,93.20 C437.88,93.20 438.25,93.85 438.80,94.70 C439.35,95.55 439.98,97.82 440.70,98.30 C441.42,98.78 442.33,97.97 443.10,97.60 C443.87,97.23 444.57,95.98 445.30,96.10 C446.03,96.22 446.78,97.70 447.50,98.30 C448.22,98.90 448.88,99.95 449.60,99.70 C450.32,99.45 451.20,97.52 451.80,96.80 C452.40,96.08 452.60,95.27 453.20,95.40 C453.80,95.53 454.67,97.12 455.40,97.60 C456.13,98.08 456.88,98.47 457.60,98.30 C458.32,98.13 459.10,96.80 459.70,96.60 C460.30,96.40 460.60,96.70 461.20,97.10 C461.80,97.50 462.58,99.00 463.30,99.00 C464.02,99.00 464.85,97.65 465.50,97.10 C466.15,96.55 466.60,95.75 467.20,95.70 C467.80,95.65 468.42,96.73 469.10,96.80 C469.78,96.87 470.70,96.82 471.30,96.10 C471.90,95.38 472.22,93.77 472.70,92.50 C473.18,91.23 473.72,88.25 474.20,88.50 C474.68,88.75 475.17,92.62 475.60,94.00 C476.03,95.38 476.43,98.48 476.80,96.80 C477.17,95.12 477.47,88.95 477.80,83.90 C478.13,78.85 478.45,72.98 478.80,66.50 C479.15,60.02 479.57,51.02 479.90,45.00 C480.23,38.98 480.52,30.40 480.80,30.40 C481.08,30.40 481.38,38.98 481.60,45.00 C481.82,51.02 481.90,60.02 482.10,66.50 C482.30,72.98 482.48,78.60 482.80,83.90 C483.12,89.20 483.63,95.45 484.00,98.30 C484.37,101.15 484.83,100.55 485.00,101.00 Z" fill="#d8877d" stroke="#a3102e" stroke-width="1.1"/>
<path d="M419,213 C419.25,212.67 419.92,211.65 420.50,211.00 C421.08,210.35 421.83,209.10 422.50,209.10 C423.17,209.10 423.87,210.35 424.50,211.00 C425.13,211.65 424.03,212.67 426.30,213.00 C428.57,213.33 435.82,213.28 438.10,213.00 C440.38,212.72 439.40,211.70 440.00,211.30 C440.60,210.90 441.07,210.60 441.70,210.60 C442.33,210.60 443.08,210.90 443.80,211.30 C444.52,211.70 443.58,212.72 446.00,213.00 C448.42,213.28 455.88,213.20 458.30,213.00 C460.72,212.80 459.78,212.05 460.50,211.80 C461.22,211.55 461.85,211.50 462.60,211.50 C463.35,211.50 464.27,211.55 465.00,211.80 C465.73,212.05 465.23,212.80 467.00,213.00 C468.77,213.20 473.93,214.17 475.60,213.00 C477.27,211.83 476.52,209.33 477.00,206.00 C477.48,202.67 477.97,196.13 478.50,193.00 C479.03,189.87 479.60,186.97 480.20,187.20 C480.80,187.43 481.55,191.03 482.10,194.40 C482.65,197.77 483.02,204.30 483.50,207.40 C483.98,210.50 484.75,212.07 485.00,213.00 Z" fill="#d8877d" stroke="#a3102e" stroke-width="1.1"/>
<text x="0" y="0" font-size="12.00" text-anchor="start" font-weight="bold" fill="#111" transform="translate(7.4 271.7) scale(0.9 1)">C</text>
<text x="0" y="0" font-size="10.00" text-anchor="middle" font-weight="normal" fill="#111" transform="translate(30.4 336.2) rotate(-90) scale(0.86 1)">Frequency of donor</text>
<text x="0" y="0" font-size="10.00" text-anchor="middle" font-weight="normal" fill="#111" transform="translate(43.6 336.3) rotate(-90) scale(0.86 1)">CD4<tspan font-size="6.51" dy="-3.49">+</tspan><tspan dy="3.49"> cells</tspan></text>
<line x1="67.4" y1="285.3" x2="67.4" y2="386.6" stroke="#111" stroke-width="1.4"/>
<line x1="64.5" y1="288.3" x2="67" y2="288.3" stroke="#111" stroke-width="1"/>
<text x="0" y="0" font-size="9.19" text-anchor="end" font-weight="normal" fill="#111" transform="translate(61.1 291.2) scale(0.86 1)">100</text>
<line x1="64.5" y1="307.84000000000003" x2="67" y2="307.84000000000003" stroke="#111" stroke-width="1"/>
<text x="0" y="0" font-size="9.19" text-anchor="end" font-weight="normal" fill="#111" transform="translate(61.1 310.74) scale(0.86 1)">80</text>
<line x1="64.5" y1="327.38" x2="67" y2="327.38" stroke="#111" stroke-width="1"/>
<text x="0" y="0" font-size="9.19" text-anchor="end" font-weight="normal" fill="#111" transform="translate(61.1 330.28) scale(0.86 1)">60</text>
<line x1="64.5" y1="346.92" x2="67" y2="346.92" stroke="#111" stroke-width="1"/>
<text x="0" y="0" font-size="9.19" text-anchor="end" font-weight="normal" fill="#111" transform="translate(61.1 349.82) scale(0.86 1)">40</text>
<line x1="64.5" y1="366.46000000000004" x2="67" y2="366.46000000000004" stroke="#111" stroke-width="1"/>
<text x="0" y="0" font-size="9.19" text-anchor="end" font-weight="normal" fill="#111" transform="translate(61.1 369.36) scale(0.86 1)">20</text>
<line x1="64.5" y1="386.0" x2="67" y2="386.0" stroke="#111" stroke-width="1"/>
<text x="0" y="0" font-size="9.19" text-anchor="end" font-weight="normal" fill="#111" transform="translate(61.1 388.9) scale(0.86 1)">0</text>
<line x1="66.4" y1="386" x2="202.2" y2="386" stroke="#111" stroke-width="1.2"/>
<line x1="84" y1="386" x2="84" y2="389" stroke="#111" stroke-width="1"/>
<line x1="118" y1="386" x2="118" y2="389" stroke="#111" stroke-width="1"/>
<line x1="151.8" y1="386" x2="151.8" y2="389" stroke="#111" stroke-width="1"/>
<line x1="185.8" y1="386" x2="185.8" y2="389" stroke="#111" stroke-width="1"/>
<rect x="73.3" y="361.0865" width="9.6" height="24.9135" fill="#d6897f" stroke="#a81c36" stroke-width="1"/>
<rect x="85.6" y="355.713" width="10" height="30.286999999999978" fill="#8f9bcb" stroke="#2b3a6c" stroke-width="1"/>
<rect x="107.2" y="376.6208" width="9.4" height="9.379200000000026" fill="#d6897f" stroke="#a81c36" stroke-width="1"/>
<rect x="119.6" y="377.207" width="9.6" height="8.793000000000006" fill="#8f9bcb" stroke="#2b3a6c" stroke-width="1"/>
<rect x="141" y="294.3574" width="9.6" height="91.64260000000002" fill="#d6897f" stroke="#a81c36" stroke-width="1"/>
<rect x="153.6" y="303.63890000000004" width="9.6" height="82.36109999999996" fill="#8f9bcb" stroke="#2b3a6c" stroke-width="1"/>
<rect x="174.4" y="367.8278" width="10" height="18.172199999999975" fill="#d6897f" stroke="#a81c36" stroke-width="1"/>
<rect x="187.4" y="364.9945" width="9.6" height="21.005499999999984" fill="#8f9bcb" stroke="#2b3a6c" stroke-width="1"/>
<line x1="78.1" y1="358.1" x2="78.1" y2="364" stroke="#111" stroke-width="1"/>
<line x1="75.85" y1="358.1" x2="80.35" y2="358.1" stroke="#111" stroke-width="1"/>
<line x1="90.6" y1="353.5" x2="90.6" y2="358" stroke="#111" stroke-width="1"/>
<line x1="88.35" y1="353.5" x2="92.85" y2="353.5" stroke="#111" stroke-width="1"/>
<line x1="146" y1="293.5" x2="146" y2="296.5" stroke="#111" stroke-width="1"/>
<line x1="144.0" y1="293.5" x2="148.0" y2="293.5" stroke="#111" stroke-width="1"/>
<line x1="158.4" y1="302.5" x2="158.4" y2="305" stroke="#111" stroke-width="1"/>
<line x1="156.4" y1="302.5" x2="160.4" y2="302.5" stroke="#111" stroke-width="1"/>
<line x1="179.4" y1="366" x2="179.4" y2="370" stroke="#111" stroke-width="1"/>
<line x1="177.4" y1="366" x2="181.4" y2="366" stroke="#111" stroke-width="1"/>
<circle cx="77.8" cy="350.8" r="1.7" fill="#a5132f"/>
<circle cx="77.5" cy="362.5" r="1.7" fill="#a5132f"/>
<circle cx="79.8" cy="364.5" r="1.7" fill="#a5132f"/>
<circle cx="78.5" cy="367.5" r="1.7" fill="#a5132f"/>
<circle cx="76.5" cy="365" r="1.7" fill="#a5132f"/>
<circle cx="88.6" cy="351.4" r="1.7" fill="#2a3d6c"/>
<circle cx="95.2" cy="354" r="1.7" fill="#2a3d6c"/>
<circle cx="92.5" cy="354.5" r="1.7" fill="#2a3d6c"/>
<circle cx="89" cy="358.5" r="1.7" fill="#2a3d6c"/>
<circle cx="88.5" cy="362.5" r="1.7" fill="#2a3d6c"/>
<circle cx="108.8" cy="374.6" r="1.7" fill="#a5132f"/>
<circle cx="114.8" cy="374.6" r="1.7" fill="#a5132f"/>
<circle cx="111.7" cy="377.8" r="1.7" fill="#a5132f"/>
<circle cx="110" cy="376.5" r="1.7" fill="#a5132f"/>
<circle cx="113.5" cy="376.5" r="1.7" fill="#a5132f"/>
<circle cx="121.3" cy="375.3" r="1.7" fill="#2a3d6c"/>
<circle cx="127.3" cy="375.3" r="1.7" fill="#2a3d6c"/>
<circle cx="124.3" cy="378.3" r="1.7" fill="#2a3d6c"/>
<circle cx="122.8" cy="377" r="1.7" fill="#2a3d6c"/>
<circle cx="125.8" cy="377" r="1.7" fill="#2a3d6c"/>
<circle cx="148.4" cy="292.4" r="1.7" fill="#a5132f"/>
<circle cx="143.5" cy="294.3" r="1.7" fill="#a5132f"/>
<circle cx="146" cy="295" r="1.7" fill="#a5132f"/>
<circle cx="142.5" cy="295.5" r="1.7" fill="#a5132f"/>
<circle cx="149" cy="294.5" r="1.7" fill="#a5132f"/>
<circle cx="161.1" cy="301.6" r="1.7" fill="#2a3d6c"/>
<circle cx="155.5" cy="303.2" r="1.7" fill="#2a3d6c"/>
<circle cx="158" cy="305" r="1.7" fill="#2a3d6c"/>
<circle cx="159.8" cy="303" r="1.7" fill="#2a3d6c"/>
<circle cx="176.3" cy="364.6" r="1.7" fill="#a5132f"/>
<circle cx="183.3" cy="365.2" r="1.7" fill="#a5132f"/>
<circle cx="178.5" cy="368.5" r="1.7" fill="#a5132f"/>
<circle cx="181" cy="371" r="1.7" fill="#a5132f"/>
<circle cx="176.8" cy="372" r="1.7" fill="#a5132f"/>
<circle cx="182.5" cy="368" r="1.7" fill="#a5132f"/>
<circle cx="189.2" cy="365" r="1.7" fill="#2a3d6c"/>
<circle cx="195" cy="364.6" r="1.7" fill="#2a3d6c"/>
<circle cx="191.6" cy="368.5" r="1.7" fill="#2a3d6c"/>
<circle cx="193.3" cy="366.5" r="1.7" fill="#2a3d6c"/>
<line x1="141.2" y1="284.8" x2="164.2" y2="284.8" stroke="#111" stroke-width="1.4"/>
<circle cx="150.7" cy="280.2" r="1.3" fill="#111"/>
<circle cx="154.7" cy="280.2" r="1.3" fill="#111"/>
<text x="0" y="0" font-size="9.19" text-anchor="end" font-weight="normal" fill="#111" transform="translate(89.8 396.3) rotate(-45) scale(0.86 1)">CD25<tspan font-size="5.81" dy="-3.49">+</tspan></text>
<text x="0" y="0" font-size="9.19" text-anchor="end" font-weight="normal" fill="#111" transform="translate(123.8 396.3) rotate(-45) scale(0.86 1)">CD69<tspan font-size="5.81" dy="-3.49">+</tspan></text>
<text x="0" y="0" font-size="9.19" text-anchor="end" font-weight="normal" fill="#111" transform="translate(157.60000000000002 396.3) rotate(-45) scale(0.86 1)">CD44<tspan font-size="5.81" dy="-3.49">+</tspan></text>
<text x="0" y="0" font-size="9.19" text-anchor="end" font-weight="normal" fill="#111" transform="translate(191.60000000000002 396.3) rotate(-45) scale(0.86 1)">CD62L<tspan font-size="5.81" dy="-3.49">+</tspan></text>
<text x="0" y="0" font-size="10.00" text-anchor="middle" font-weight="normal" fill="#111" transform="translate(226.4 342.8) rotate(-90) scale(0.86 1)">Count</text>
<line x1="232.5" y1="305" x2="232.5" y2="385.3" stroke="#111" stroke-width="1.1"/>
<path d="M232.5 300.5 L230.4 306 L234.6 306 Z" fill="#111"/>
<line x1="257.5" y1="404.5" x2="442" y2="404.5" stroke="#111" stroke-width="1.1"/>
<path d="M446.8 404.5 L441.4 402.4 L441.4 406.6 Z" fill="#111"/>
<text x="0" y="0" font-size="10.00" text-anchor="middle" font-weight="normal" fill="#111" transform="translate(350 415.5) scale(0.86 1)">CD44</text>
<text x="0" y="0" font-size="9.07" text-anchor="middle" font-weight="normal" fill="#111" transform="translate(297.8 296) scale(0.86 1)">WT</text>
<text x="0" y="0" font-size="8.49" text-anchor="middle" font-weight="normal" fill="#111" transform="translate(405.5 296) scale(0.86 1)">AhR<tspan font-size="4.88" dy="-3.49">−/−</tspan></text>
<rect x="254.8" y="300.2" width="85.19999999999999" height="85.5" fill="none" stroke="#111" stroke-width="1.4"/>
<line x1="251.8" y1="314.5" x2="254.8" y2="314.5" stroke="#111" stroke-width="1.3"/>
<text x="0" y="0" font-size="9.42" text-anchor="end" font-weight="normal" fill="#111" transform="translate(249.2 317.4) scale(0.86 1)">200</text>
<line x1="251.8" y1="332.3" x2="254.8" y2="332.3" stroke="#111" stroke-width="1.3"/>
<text x="0" y="0" font-size="9.42" text-anchor="end" font-weight="normal" fill="#111" transform="translate(249.2 335.2) scale(0.86 1)">150</text>
<line x1="251.8" y1="350.1" x2="254.8" y2="350.1" stroke="#111" stroke-width="1.3"/>
<text x="0" y="0" font-size="9.42" text-anchor="end" font-weight="normal" fill="#111" transform="translate(249.2 353.0) scale(0.86 1)">100</text>
<line x1="251.8" y1="367.9" x2="254.8" y2="367.9" stroke="#111" stroke-width="1.3"/>
<text x="0" y="0" font-size="9.42" text-anchor="end" font-weight="normal" fill="#111" transform="translate(249.2 370.79999999999995) scale(0.86 1)">50</text>
<line x1="251.8" y1="385.7" x2="254.8" y2="385.7" stroke="#111" stroke-width="1.3"/>
<text x="0" y="0" font-size="9.42" text-anchor="end" font-weight="normal" fill="#111" transform="translate(249.2 388.59999999999997) scale(0.86 1)">0</text>
<line x1="253.3" y1="318.06" x2="254.8" y2="318.06" stroke="#111" stroke-width="0.8"/>
<line x1="253.3" y1="321.62" x2="254.8" y2="321.62" stroke="#111" stroke-width="0.8"/>
<line x1="253.3" y1="325.18" x2="254.8" y2="325.18" stroke="#111" stroke-width="0.8"/>
<line x1="253.3" y1="328.74" x2="254.8" y2="328.74" stroke="#111" stroke-width="0.8"/>
<line x1="253.3" y1="335.86" x2="254.8" y2="335.86" stroke="#111" stroke-width="0.8"/>
<line x1="253.3" y1="339.42" x2="254.8" y2="339.42" stroke="#111" stroke-width="0.8"/>
<line x1="253.3" y1="342.98" x2="254.8" y2="342.98" stroke="#111" stroke-width="0.8"/>
<line x1="253.3" y1="346.54" x2="254.8" y2="346.54" stroke="#111" stroke-width="0.8"/>
<line x1="253.3" y1="353.66" x2="254.8" y2="353.66" stroke="#111" stroke-width="0.8"/>
<line x1="253.3" y1="357.22" x2="254.8" y2="357.22" stroke="#111" stroke-width="0.8"/>
<line x1="253.3" y1="360.78000000000003" x2="254.8" y2="360.78000000000003" stroke="#111" stroke-width="0.8"/>
<line x1="253.3" y1="364.34000000000003" x2="254.8" y2="364.34000000000003" stroke="#111" stroke-width="0.8"/>
<line x1="253.3" y1="371.46" x2="254.8" y2="371.46" stroke="#111" stroke-width="0.8"/>
<line x1="253.3" y1="375.02" x2="254.8" y2="375.02" stroke="#111" stroke-width="0.8"/>
<line x1="253.3" y1="378.58" x2="254.8" y2="378.58" stroke="#111" stroke-width="0.8"/>
<line x1="253.3" y1="382.14" x2="254.8" y2="382.14" stroke="#111" stroke-width="0.8"/>
<line x1="253.3" y1="310.94" x2="254.8" y2="310.94" stroke="#111" stroke-width="0.8"/>
<line x1="253.3" y1="307.38" x2="254.8" y2="307.38" stroke="#111" stroke-width="0.8"/>
<line x1="253.3" y1="303.82" x2="254.8" y2="303.82" stroke="#111" stroke-width="0.8"/>
<rect x="363.4" y="300.2" width="86.0" height="85.10000000000002" fill="none" stroke="#111" stroke-width="1.4"/>
<line x1="360.4" y1="300.5" x2="363.4" y2="300.5" stroke="#111" stroke-width="1.3"/>
<text x="0" y="0" font-size="9.42" text-anchor="end" font-weight="normal" fill="#111" transform="translate(357.2 303.4) scale(0.86 1)">100</text>
<line x1="360.4" y1="317.5" x2="363.4" y2="317.5" stroke="#111" stroke-width="1.3"/>
<text x="0" y="0" font-size="9.42" text-anchor="end" font-weight="normal" fill="#111" transform="translate(357.2 320.4) scale(0.86 1)">80</text>
<line x1="360.4" y1="334.5" x2="363.4" y2="334.5" stroke="#111" stroke-width="1.3"/>
<text x="0" y="0" font-size="9.42" text-anchor="end" font-weight="normal" fill="#111" transform="translate(357.2 337.4) scale(0.86 1)">60</text>
<line x1="360.4" y1="351.5" x2="363.4" y2="351.5" stroke="#111" stroke-width="1.3"/>
<text x="0" y="0" font-size="9.42" text-anchor="end" font-weight="normal" fill="#111" transform="translate(357.2 354.4) scale(0.86 1)">40</text>
<line x1="360.4" y1="368.4" x2="363.4" y2="368.4" stroke="#111" stroke-width="1.3"/>
<text x="0" y="0" font-size="9.42" text-anchor="end" font-weight="normal" fill="#111" transform="translate(357.2 371.29999999999995) scale(0.86 1)">20</text>
<line x1="360.4" y1="385.3" x2="363.4" y2="385.3" stroke="#111" stroke-width="1.3"/>
<text x="0" y="0" font-size="9.42" text-anchor="end" font-weight="normal" fill="#111" transform="translate(357.2 388.2) scale(0.86 1)">0</text>
<line x1="361.9" y1="303.892" x2="363.4" y2="303.892" stroke="#111" stroke-width="0.8"/>
<line x1="361.9" y1="307.284" x2="363.4" y2="307.284" stroke="#111" stroke-width="0.8"/>
<line x1="361.9" y1="310.676" x2="363.4" y2="310.676" stroke="#111" stroke-width="0.8"/>
<line x1="361.9" y1="314.068" x2="363.4" y2="314.068" stroke="#111" stroke-width="0.8"/>
<line x1="361.9" y1="320.892" x2="363.4" y2="320.892" stroke="#111" stroke-width="0.8"/>
<line x1="361.9" y1="324.284" x2="363.4" y2="324.284" stroke="#111" stroke-width="0.8"/>
<line x1="361.9" y1="327.676" x2="363.4" y2="327.676" stroke="#111" stroke-width="0.8"/>
<line x1="361.9" y1="331.068" x2="363.4" y2="331.068" stroke="#111" stroke-width="0.8"/>
<line x1="361.9" y1="337.892" x2="363.4" y2="337.892" stroke="#111" stroke-width="0.8"/>
<line x1="361.9" y1="341.284" x2="363.4" y2="341.284" stroke="#111" stroke-width="0.8"/>
<line x1="361.9" y1="344.676" x2="363.4" y2="344.676" stroke="#111" stroke-width="0.8"/>
<line x1="361.9" y1="348.068" x2="363.4" y2="348.068" stroke="#111" stroke-width="0.8"/>
<line x1="361.9" y1="354.892" x2="363.4" y2="354.892" stroke="#111" stroke-width="0.8"/>
<line x1="361.9" y1="358.284" x2="363.4" y2="358.284" stroke="#111" stroke-width="0.8"/>
<line x1="361.9" y1="361.676" x2="363.4" y2="361.676" stroke="#111" stroke-width="0.8"/>
<line x1="361.9" y1="365.068" x2="363.4" y2="365.068" stroke="#111" stroke-width="0.8"/>
<line x1="361.9" y1="371.792" x2="363.4" y2="371.792" stroke="#111" stroke-width="0.8"/>
<line x1="361.9" y1="375.18399999999997" x2="363.4" y2="375.18399999999997" stroke="#111" stroke-width="0.8"/>
<line x1="361.9" y1="378.57599999999996" x2="363.4" y2="378.57599999999996" stroke="#111" stroke-width="0.8"/>
<line x1="361.9" y1="381.96799999999996" x2="363.4" y2="381.96799999999996" stroke="#111" stroke-width="0.8"/>
<line x1="260" y1="385.7" x2="260" y2="388.7" stroke="#111" stroke-width="1"/>
<line x1="274.5" y1="385.7" x2="274.5" y2="388.7" stroke="#111" stroke-width="1"/>
<line x1="285" y1="385.7" x2="285" y2="388.7" stroke="#111" stroke-width="1"/>
<line x1="312.5" y1="385.7" x2="312.5" y2="388.7" stroke="#111" stroke-width="1"/>
<line x1="332.5" y1="385.7" x2="332.5" y2="388.7" stroke="#111" stroke-width="1"/>
<line x1="293.2783248807595" y1="385.7" x2="293.2783248807595" y2="387.9" stroke="#111" stroke-width="0.9"/>
<line x1="318.5205999132796" y1="385.7" x2="318.5205999132796" y2="387.9" stroke="#111" stroke-width="0.9"/>
<line x1="298.1208345047907" y1="385.7" x2="298.1208345047907" y2="387.9" stroke="#111" stroke-width="0.9"/>
<line x1="322.04242509439325" y1="385.7" x2="322.04242509439325" y2="387.9" stroke="#111" stroke-width="0.9"/>
<line x1="301.55664976151894" y1="385.7" x2="301.55664976151894" y2="387.9" stroke="#111" stroke-width="0.9"/>
<line x1="324.54119982655925" y1="385.7" x2="324.54119982655925" y2="387.9" stroke="#111" stroke-width="0.9"/>
<line x1="304.2216751192405" y1="385.7" x2="304.2216751192405" y2="387.9" stroke="#111" stroke-width="0.9"/>
<line x1="326.4794000867204" y1="385.7" x2="326.4794000867204" y2="387.9" stroke="#111" stroke-width="0.9"/>
<line x1="306.3991593855502" y1="385.7" x2="306.3991593855502" y2="387.9" stroke="#111" stroke-width="0.9"/>
<line x1="328.0630250076729" y1="385.7" x2="328.0630250076729" y2="387.9" stroke="#111" stroke-width="0.9"/>
<line x1="308.24019610039204" y1="385.7" x2="308.24019610039204" y2="387.9" stroke="#111" stroke-width="0.9"/>
<line x1="329.4019608002851" y1="385.7" x2="329.4019608002851" y2="387.9" stroke="#111" stroke-width="0.9"/>
<line x1="309.83497464227844" y1="385.7" x2="309.83497464227844" y2="387.9" stroke="#111" stroke-width="0.9"/>
<line x1="330.5617997398389" y1="385.7" x2="330.5617997398389" y2="387.9" stroke="#111" stroke-width="0.9"/>
<line x1="311.2416690095814" y1="385.7" x2="311.2416690095814" y2="387.9" stroke="#111" stroke-width="0.9"/>
<line x1="331.5848501887865" y1="385.7" x2="331.5848501887865" y2="387.9" stroke="#111" stroke-width="0.9"/>
<line x1="261.45" y1="385.7" x2="261.45" y2="387.9" stroke="#111" stroke-width="0.9"/>
<line x1="275.55" y1="385.7" x2="275.55" y2="387.9" stroke="#111" stroke-width="0.9"/>
<line x1="262.9" y1="385.7" x2="262.9" y2="387.9" stroke="#111" stroke-width="0.9"/>
<line x1="276.6" y1="385.7" x2="276.6" y2="387.9" stroke="#111" stroke-width="0.9"/>
<line x1="264.35" y1="385.7" x2="264.35" y2="387.9" stroke="#111" stroke-width="0.9"/>
<line x1="277.65" y1="385.7" x2="277.65" y2="387.9" stroke="#111" stroke-width="0.9"/>
<line x1="265.8" y1="385.7" x2="265.8" y2="387.9" stroke="#111" stroke-width="0.9"/>
<line x1="278.7" y1="385.7" x2="278.7" y2="387.9" stroke="#111" stroke-width="0.9"/>
<line x1="267.25" y1="385.7" x2="267.25" y2="387.9" stroke="#111" stroke-width="0.9"/>
<line x1="279.75" y1="385.7" x2="279.75" y2="387.9" stroke="#111" stroke-width="0.9"/>
<line x1="268.7" y1="385.7" x2="268.7" y2="387.9" stroke="#111" stroke-width="0.9"/>
<line x1="280.8" y1="385.7" x2="280.8" y2="387.9" stroke="#111" stroke-width="0.9"/>
<line x1="270.15" y1="385.7" x2="270.15" y2="387.9" stroke="#111" stroke-width="0.9"/>
<line x1="281.85" y1="385.7" x2="281.85" y2="387.9" stroke="#111" stroke-width="0.9"/>
<line x1="271.6" y1="385.7" x2="271.6" y2="387.9" stroke="#111" stroke-width="0.9"/>
<line x1="282.9" y1="385.7" x2="282.9" y2="387.9" stroke="#111" stroke-width="0.9"/>
<line x1="273.05" y1="385.7" x2="273.05" y2="387.9" stroke="#111" stroke-width="0.9"/>
<line x1="283.95" y1="385.7" x2="283.95" y2="387.9" stroke="#111" stroke-width="0.9"/>
<line x1="334.60720996964784" y1="385.7" x2="334.60720996964784" y2="387.9" stroke="#111" stroke-width="0.9"/>
<line x1="335.8398487830376" y1="385.7" x2="335.8398487830376" y2="387.9" stroke="#111" stroke-width="0.9"/>
<line x1="336.71441993929574" y1="385.7" x2="336.71441993929574" y2="387.9" stroke="#111" stroke-width="0.9"/>
<line x1="337.3927900303521" y1="385.7" x2="337.3927900303521" y2="387.9" stroke="#111" stroke-width="0.9"/>
<line x1="337.9470587526855" y1="385.7" x2="337.9470587526855" y2="387.9" stroke="#111" stroke-width="0.9"/>
<line x1="338.4156862800998" y1="385.7" x2="338.4156862800998" y2="387.9" stroke="#111" stroke-width="0.9"/>
<line x1="338.8216299089436" y1="385.7" x2="338.8216299089436" y2="387.9" stroke="#111" stroke-width="0.9"/>
<line x1="339.1796975660753" y1="385.7" x2="339.1796975660753" y2="387.9" stroke="#111" stroke-width="0.9"/>
<text x="0" y="0" font-size="8.84" text-anchor="middle" font-weight="normal" fill="#111" transform="translate(259.5 399.6) scale(0.86 1)">-10<tspan font-size="6.53" dy="-3.53">3</tspan></text>
<text x="0" y="0" font-size="8.84" text-anchor="middle" font-weight="normal" fill="#111" transform="translate(274.5 399.6) scale(0.86 1)">0</text>
<text x="0" y="0" font-size="8.84" text-anchor="middle" font-weight="normal" fill="#111" transform="translate(286 399.6) scale(0.86 1)">10<tspan font-size="6.53" dy="-3.53">3</tspan></text>
<text x="0" y="0" font-size="8.84" text-anchor="middle" font-weight="normal" fill="#111" transform="translate(313 399.6) scale(0.86 1)">10<tspan font-size="6.53" dy="-3.53">4</tspan></text>
<text x="0" y="0" font-size="8.84" text-anchor="middle" font-weight="normal" fill="#111" transform="translate(333.5 399.6) scale(0.86 1)">10<tspan font-size="6.53" dy="-3.53">5</tspan></text>
<line x1="367.5" y1="385.3" x2="367.5" y2="388.3" stroke="#111" stroke-width="1"/>
<line x1="383" y1="385.3" x2="383" y2="388.3" stroke="#111" stroke-width="1"/>
<line x1="395.5" y1="385.3" x2="395.5" y2="388.3" stroke="#111" stroke-width="1"/>
<line x1="418.8" y1="385.3" x2="418.8" y2="388.3" stroke="#111" stroke-width="1"/>
<line x1="438.8" y1="385.3" x2="438.8" y2="388.3" stroke="#111" stroke-width="1"/>
<line x1="402.5139988989708" y1="385.3" x2="402.5139988989708" y2="387.5" stroke="#111" stroke-width="0.9"/>
<line x1="424.82059991327964" y1="385.3" x2="424.82059991327964" y2="387.5" stroke="#111" stroke-width="0.9"/>
<line x1="406.61692523496816" y1="385.3" x2="406.61692523496816" y2="387.5" stroke="#111" stroke-width="0.9"/>
<line x1="428.34242509439326" y1="385.3" x2="428.34242509439326" y2="387.5" stroke="#111" stroke-width="0.9"/>
<line x1="409.5279977979415" y1="385.3" x2="409.5279977979415" y2="387.5" stroke="#111" stroke-width="0.9"/>
<line x1="430.84119982655926" y1="385.3" x2="430.84119982655926" y2="387.5" stroke="#111" stroke-width="0.9"/>
<line x1="411.7860011010292" y1="385.3" x2="411.7860011010292" y2="387.5" stroke="#111" stroke-width="0.9"/>
<line x1="432.7794000867204" y1="385.3" x2="432.7794000867204" y2="387.5" stroke="#111" stroke-width="0.9"/>
<line x1="413.6309241339389" y1="385.3" x2="413.6309241339389" y2="387.5" stroke="#111" stroke-width="0.9"/>
<line x1="434.3630250076729" y1="385.3" x2="434.3630250076729" y2="387.5" stroke="#111" stroke-width="0.9"/>
<line x1="415.1907843323322" y1="385.3" x2="415.1907843323322" y2="387.5" stroke="#111" stroke-width="0.9"/>
<line x1="435.7019608002851" y1="385.3" x2="435.7019608002851" y2="387.5" stroke="#111" stroke-width="0.9"/>
<line x1="416.5419966969123" y1="385.3" x2="416.5419966969123" y2="387.5" stroke="#111" stroke-width="0.9"/>
<line x1="436.8617997398389" y1="385.3" x2="436.8617997398389" y2="387.5" stroke="#111" stroke-width="0.9"/>
<line x1="417.73385046993627" y1="385.3" x2="417.73385046993627" y2="387.5" stroke="#111" stroke-width="0.9"/>
<line x1="437.8848501887865" y1="385.3" x2="437.8848501887865" y2="387.5" stroke="#111" stroke-width="0.9"/>
<line x1="369.05" y1="385.3" x2="369.05" y2="387.5" stroke="#111" stroke-width="0.9"/>
<line x1="384.25" y1="385.3" x2="384.25" y2="387.5" stroke="#111" stroke-width="0.9"/>
<line x1="370.6" y1="385.3" x2="370.6" y2="387.5" stroke="#111" stroke-width="0.9"/>
<line x1="385.5" y1="385.3" x2="385.5" y2="387.5" stroke="#111" stroke-width="0.9"/>
<line x1="372.15" y1="385.3" x2="372.15" y2="387.5" stroke="#111" stroke-width="0.9"/>
<line x1="386.75" y1="385.3" x2="386.75" y2="387.5" stroke="#111" stroke-width="0.9"/>
<line x1="373.7" y1="385.3" x2="373.7" y2="387.5" stroke="#111" stroke-width="0.9"/>
<line x1="388.0" y1="385.3" x2="388.0" y2="387.5" stroke="#111" stroke-width="0.9"/>
<line x1="375.25" y1="385.3" x2="375.25" y2="387.5" stroke="#111" stroke-width="0.9"/>
<line x1="389.25" y1="385.3" x2="389.25" y2="387.5" stroke="#111" stroke-width="0.9"/>
<line x1="376.8" y1="385.3" x2="376.8" y2="387.5" stroke="#111" stroke-width="0.9"/>
<line x1="390.5" y1="385.3" x2="390.5" y2="387.5" stroke="#111" stroke-width="0.9"/>
<line x1="378.35" y1="385.3" x2="378.35" y2="387.5" stroke="#111" stroke-width="0.9"/>
<line x1="391.75" y1="385.3" x2="391.75" y2="387.5" stroke="#111" stroke-width="0.9"/>
<line x1="379.9" y1="385.3" x2="379.9" y2="387.5" stroke="#111" stroke-width="0.9"/>
<line x1="393.0" y1="385.3" x2="393.0" y2="387.5" stroke="#111" stroke-width="0.9"/>
<line x1="381.45" y1="385.3" x2="381.45" y2="387.5" stroke="#111" stroke-width="0.9"/>
<line x1="394.25" y1="385.3" x2="394.25" y2="387.5" stroke="#111" stroke-width="0.9"/>
<line x1="440.90720996964785" y1="385.3" x2="440.90720996964785" y2="387.5" stroke="#111" stroke-width="0.9"/>
<line x1="442.1398487830376" y1="385.3" x2="442.1398487830376" y2="387.5" stroke="#111" stroke-width="0.9"/>
<line x1="443.01441993929575" y1="385.3" x2="443.01441993929575" y2="387.5" stroke="#111" stroke-width="0.9"/>
<line x1="443.69279003035217" y1="385.3" x2="443.69279003035217" y2="387.5" stroke="#111" stroke-width="0.9"/>
<line x1="444.2470587526855" y1="385.3" x2="444.2470587526855" y2="387.5" stroke="#111" stroke-width="0.9"/>
<line x1="444.7156862800998" y1="385.3" x2="444.7156862800998" y2="387.5" stroke="#111" stroke-width="0.9"/>
<line x1="445.1216299089436" y1="385.3" x2="445.1216299089436" y2="387.5" stroke="#111" stroke-width="0.9"/>
<line x1="445.4796975660753" y1="385.3" x2="445.4796975660753" y2="387.5" stroke="#111" stroke-width="0.9"/>
<text x="0" y="0" font-size="8.84" text-anchor="middle" font-weight="normal" fill="#111" transform="translate(367 399.6) scale(0.86 1)">-10<tspan font-size="6.53" dy="-3.53">3</tspan></text>
<text x="0" y="0" font-size="8.84" text-anchor="middle" font-weight="normal" fill="#111" transform="translate(383 399.6) scale(0.86 1)">0</text>
<text x="0" y="0" font-size="8.84" text-anchor="middle" font-weight="normal" fill="#111" transform="translate(396.5 399.6) scale(0.86 1)">10<tspan font-size="6.53" dy="-3.53">3</tspan></text>
<text x="0" y="0" font-size="8.84" text-anchor="middle" font-weight="normal" fill="#111" transform="translate(419.3 399.6) scale(0.86 1)">10<tspan font-size="6.53" dy="-3.53">4</tspan></text>
<text x="0" y="0" font-size="8.84" text-anchor="middle" font-weight="normal" fill="#111" transform="translate(439.8 399.6) scale(0.86 1)">10<tspan font-size="6.53" dy="-3.53">5</tspan></text>
<path d="M272.4,385.7 C272.93,385.02 274.58,382.52 275.60,381.60 C276.62,380.68 277.43,380.57 278.50,380.20 C279.57,379.83 280.92,379.77 282.00,379.40 C283.08,379.03 283.95,378.52 285.00,378.00 C286.05,377.48 287.05,377.13 288.30,376.30 C289.55,375.47 291.27,374.23 292.50,373.00 C293.73,371.77 294.82,370.47 295.70,368.90 C296.58,367.33 297.08,365.92 297.80,363.60 C298.52,361.28 299.30,358.53 300.00,355.00 C300.70,351.47 301.30,346.62 302.00,342.40 C302.70,338.18 303.48,333.23 304.20,329.70 C304.92,326.17 305.60,323.68 306.30,321.20 C307.00,318.72 307.70,316.57 308.40,314.80 C309.10,313.03 309.90,311.13 310.50,310.60 C311.10,310.07 311.53,311.67 312.00,311.60 C312.47,311.53 312.83,310.20 313.30,310.20 C313.77,310.20 314.38,311.72 314.80,311.60 C315.22,311.48 315.35,308.97 315.80,309.50 C316.25,310.03 316.97,312.15 317.50,314.80 C318.03,317.45 318.50,320.80 319.00,325.40 C319.50,330.00 319.97,336.75 320.50,342.40 C321.03,348.05 321.57,354.00 322.20,359.30 C322.83,364.60 323.60,370.13 324.30,374.20 C325.00,378.27 325.87,381.78 326.40,383.70 C326.93,385.62 327.32,385.37 327.50,385.70 Z" fill="#d8877d" stroke="#a3102e" stroke-width="1.1"/>
<path d="M373.5,385.5 C374.03,385.02 375.65,383.97 376.70,382.60 C377.75,381.23 378.75,379.23 379.80,377.30 C380.85,375.37 381.93,372.52 383.00,371.00 C384.07,369.48 385.32,368.80 386.20,368.20 C387.08,367.60 387.60,367.40 388.30,367.40 C389.00,367.40 389.70,368.20 390.40,368.20 C391.10,368.20 391.78,367.28 392.50,367.40 C393.22,367.52 393.98,368.90 394.70,368.90 C395.42,368.90 396.10,367.52 396.80,367.40 C397.50,367.28 398.20,368.48 398.90,368.20 C399.60,367.92 400.30,366.65 401.00,365.70 C401.70,364.75 402.38,363.92 403.10,362.50 C403.82,361.08 404.58,359.32 405.30,357.20 C406.02,355.08 406.70,352.27 407.40,349.80 C408.10,347.33 408.87,344.35 409.50,342.40 C410.13,340.45 410.67,339.52 411.20,338.10 C411.73,336.68 412.20,334.95 412.70,333.90 C413.20,332.85 413.68,332.50 414.20,331.80 C414.72,331.10 415.25,330.77 415.80,329.70 C416.35,328.63 416.97,326.82 417.50,325.40 C418.03,323.98 418.57,322.18 419.00,321.20 C419.43,320.22 419.75,319.33 420.10,319.50 C420.45,319.67 420.75,322.27 421.10,322.20 C421.45,322.13 421.83,319.27 422.20,319.10 C422.57,318.93 422.95,321.28 423.30,321.20 C423.65,321.12 423.85,317.55 424.30,318.60 C424.75,319.65 425.47,325.30 426.00,327.50 C426.53,329.70 427.07,329.32 427.50,331.80 C427.93,334.28 428.07,337.82 428.60,342.40 C429.13,346.98 430.00,354.00 430.70,359.30 C431.40,364.60 432.10,369.97 432.80,374.20 C433.50,378.43 434.37,382.82 434.90,384.70 C435.43,386.58 435.82,385.37 436.00,385.50 Z" fill="#d8877d" stroke="#a3102e" stroke-width="1.1"/>
<text x="0" y="0" font-size="9.07" text-anchor="middle" font-weight="normal" fill="#111" transform="translate(280.8 331.3) scale(0.86 1)">CD4<tspan font-size="7.67">+</tspan>CD44<tspan font-size="7.67">+</tspan></text>
<text x="0" y="0" font-size="9.07" text-anchor="middle" font-weight="normal" fill="#111" transform="translate(282 342) scale(0.86 1)">92.1</text>
<line x1="291.3" y1="345.8" x2="336.3" y2="345.8" stroke="#111" stroke-width="1.4"/>
<line x1="291.3" y1="343.6" x2="291.3" y2="348" stroke="#111" stroke-width="1.3"/>
<line x1="336.3" y1="343.6" x2="336.3" y2="348" stroke="#111" stroke-width="1.3"/>
<text x="0" y="0" font-size="9.07" text-anchor="middle" font-weight="normal" fill="#111" transform="translate(390 331) scale(0.86 1)">CD4<tspan font-size="7.67">+</tspan>CD44<tspan font-size="7.67">+</tspan></text>
<text x="0" y="0" font-size="9.07" text-anchor="middle" font-weight="normal" fill="#111" transform="translate(390.5 341) scale(0.86 1)">80.9</text>
<line x1="399.5" y1="345.8" x2="445.5" y2="345.8" stroke="#111" stroke-width="1.4"/>
<line x1="399.5" y1="343.6" x2="399.5" y2="348" stroke="#111" stroke-width="1.3"/>
<line x1="445.5" y1="343.6" x2="445.5" y2="348" stroke="#111" stroke-width="1.3"/>
</svg></div></body></html>
